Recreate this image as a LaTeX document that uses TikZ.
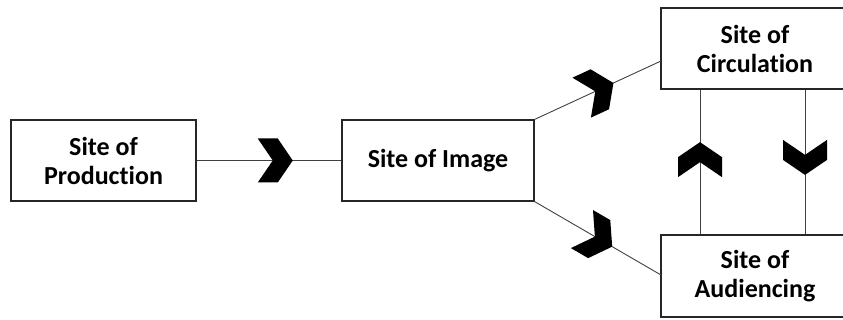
\documentclass[tikz,border=0pt]{standalone}
\usepackage{fontspec}
\setmainfont{Carlito}[Ligatures={NoCommon}]
\usetikzlibrary{decorations.markings}
\tikzset{
  site/.style={draw=black!85, line width=1.1pt, fill=white, inner sep=0pt,
    align=center, font=\fontsize{26pt}{29pt}\selectfont\bfseries},
  link/.style={draw=black!75, line width=0.9pt},
  chev/.style={postaction={decorate, decoration={markings,
    mark=at position #1 with {\fill[black] (-35pt,22pt) -- (-15pt,22pt) -- (0pt,0pt)
      -- (-15pt,-22pt) -- (-35pt,-22pt) -- (-20pt,0pt) -- cycle;}}}}
}
\begin{document}
\begin{tikzpicture}[x=1pt, y=-1pt]
  \useasboundingbox (0,0) rectangle (843,320);
  \clip (0,0) rectangle (843,320);
  \node[site, minimum width=185pt, minimum height=81pt] (prod) at (103.5,160.5) {Site of\\Production};
  \node[site, minimum width=192pt, minimum height=81pt] (img) at (438,160.5) {Site of Image};
  \node[site, minimum width=188pt, minimum height=81pt] (circ) at (755,48.5) {Site of\\Circulation};
  \node[site, minimum width=188pt, minimum height=82pt] (aud) at (755,276) {Site of\\Audiencing};
  \coordinate (cw) at (661,61);
  \coordinate (aw) at (661,275);
  \path[link, chev=0.664] (prod.east) -- (img.west);
  \path[link, chev=0.624] (img.north east) -- (cw);
  \path[link, chev=0.614] (img.south east) -- (aw);
  \path[link, chev=0.637] (aud.north -| 700,0) -- (circ.south -| 700,0);
  \path[link, chev=0.589] (circ.south -| 805,0) -- (aud.north -| 805,0);
\end{tikzpicture}
\end{document}
